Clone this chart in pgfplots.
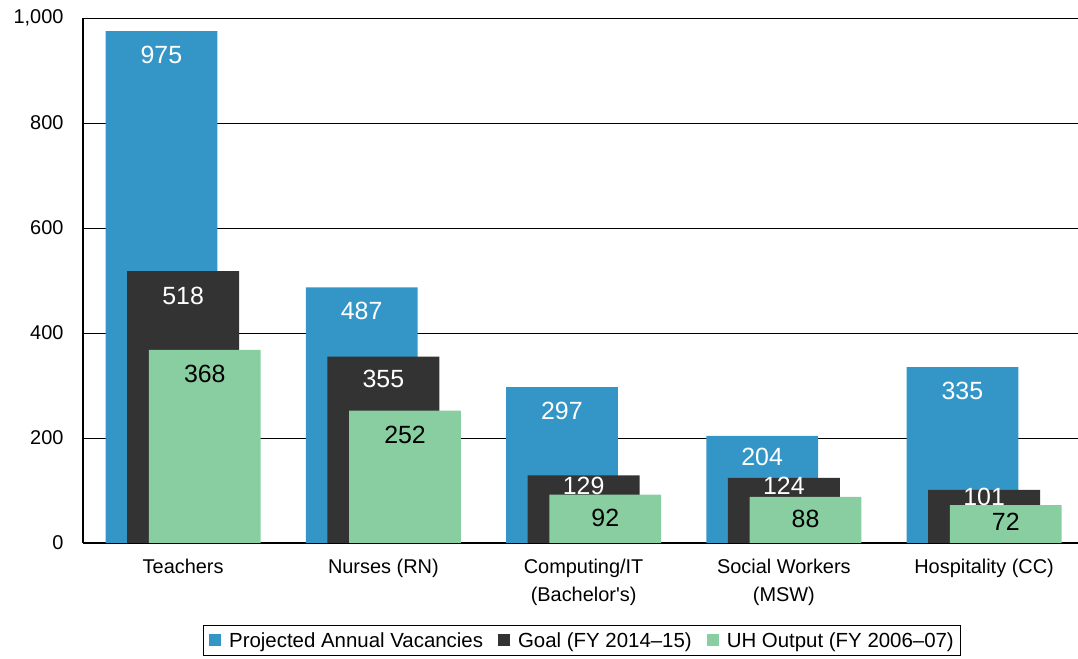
\documentclass[border=0pt]{standalone}
\usepackage{pgfplots}
\usepackage{pgfplotstable}
\pgfplotsset{compat=1.18}
\usepackage{fontspec}
\setmainfont{Liberation Sans}
\definecolor{cblue}{RGB}{52,150,199}
\definecolor{cdark}{RGB}{51,51,51}
\definecolor{cgreen}{RGB}{137,206,161}
\pgfplotstableread{
x y dy
0 975 24
1 487 24
2 297 24
3 204 21
4 335 24
}\vacancies
\pgfplotstableread{
x y dy
0 518 25
1 355 22
2 129 11
3 124 8
4 101 7
}\goal
\pgfplotstableread{
x y dy
0 368 24
1 252 24
2 92 23
3 88 22
4 72 17
}\output
\begin{document}
\begin{tikzpicture}[x=1bp,y=1bp]
\useasboundingbox (0,0) rectangle (1078,659);
\begin{axis}[
  at={(83bp,116bp)}, anchor=south west,
  scale only axis, width=995bp, height=525bp,
  xmin=-0.5, xmax=4.469, ymin=0, ymax=1000,
  axis lines*=left,
  axis line style={black, line width=1.5pt},
  ytick={0,200,...,1000},
  ymajorgrids, grid style={black, line width=0.9pt},
  xtick={0,1,2,3,4},
  xticklabels={Teachers, Nurses (RN), {Computing/IT\\(Bachelor\textquotesingle s)}, {Social Workers\\(MSW)}, Hospitality (CC)},
  xticklabel style={align=center, font=\fontsize{20}{28}\selectfont, yshift=-13bp},
  yticklabel style={font=\fontsize{20}{24}\selectfont, xshift=-16bp},
  /pgf/number format/assume math mode=true,
  /pgf/number format/1000 sep={,},
  major tick length=0pt,
  clip=false,
  legend columns=-1,
  legend style={at={(0.5015,-0.1857)}, anchor=center, draw=black, line width=0.8pt,
    font=\fontsize{20.5}{22}\selectfont, inner sep=6bp,
    nodes={inner sep=1bp},
    /tikz/every odd column/.append style={column sep=7bp},
    /tikz/every even column/.append style={column sep=14bp}},
  legend image code/.code={\fill[#1, draw=none] (0bp,-6bp) rectangle (12bp,6bp);},
  visualization depends on={\thisrow{dy} \as \dy},
  every node near coord/.append style={font=\fontsize{25}{28}\selectfont, anchor=center, yshift=-\dy bp},
]
\addplot[ybar, bar width=0.559, bar shift=-0.108, fill=cblue, draw=none,
  nodes near coords, every node near coord/.append style={color=white, xshift=-21.7bp}]
  table[x=x, y=y] {\vacancies};
\addlegendentry{Projected Annual Vacancies}
\addplot[ybar, bar width=0.559, bar shift=0, fill=cdark, draw=none,
  nodes near coords, every node near coord/.append style={color=white}]
  table[x=x, y=y] {\goal};
\addlegendentry{Goal (FY 2014–15)}
\addplot[ybar, bar width=0.559, bar shift=0.108, fill=cgreen, draw=none,
  nodes near coords, every node near coord/.append style={color=black, xshift=21.7bp}]
  table[x=x, y=y] {\output};
\addlegendentry{UH Output (FY 2006–07)}
\end{axis}
\end{tikzpicture}
\end{document}
